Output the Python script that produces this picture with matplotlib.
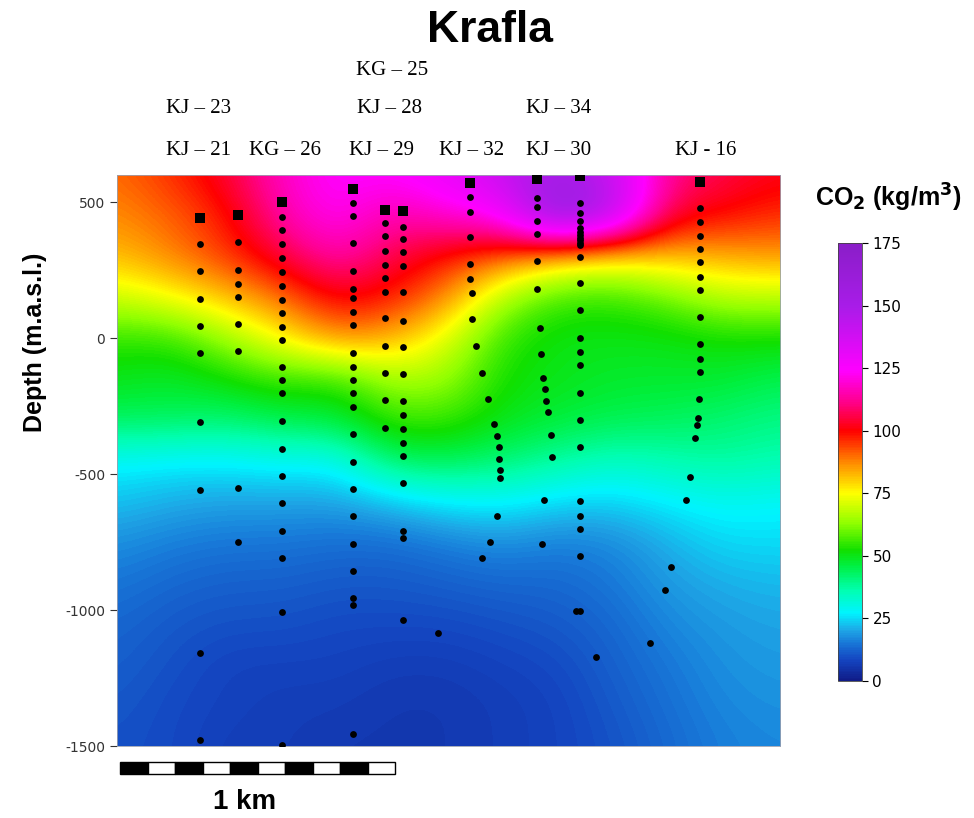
import numpy as np
import matplotlib.pyplot as plt
from matplotlib.colors import LinearSegmentedColormap
from matplotlib.patches import Rectangle

plt.rcParams["axes.unicode_minus"] = False

# profile grid (x along section in m, elevation in m.a.s.l.)
grid_x = [0, 200, 400, 600, 800, 1000, 1200, 1400, 1600, 1800, 2000, 2200, 2400]
grid_z = [600, 450, 300, 150, 0, -150, -300, -450, -600, -750, -900, -1050, -1200, -1350, -1500]

co2 = [
    [90, 96, 104, 118, 125, 124, 130, 140, 152, 140, 112, 106, 102],
    [87, 91, 98, 115, 124, 114, 120, 125, 165, 150, 104, 100, 96],
    [82, 88, 95, 105, 116, 106, 98, 92, 82, 78, 82, 84, 86],
    [70, 75, 82, 90, 102, 98, 88, 66, 56, 55, 60, 68, 68],
    [55, 55, 65, 76, 88, 84, 72, 55, 50, 50, 50, 52, 52],
    [50, 48, 52, 56, 54, 66, 65, 52, 50, 48, 48, 48, 45],
    [44, 44, 42, 46, 47, 56, 56, 50, 47, 45, 44, 42, 40],
    [28, 27, 27, 29, 28, 44, 45, 42, 38, 34, 36, 38, 36],
    [23, 21, 20, 20, 20, 23, 27, 28, 25, 24, 27, 29, 28],
    [18, 16, 15, 15, 14, 14, 16, 18, 16, 17, 21, 25, 25],
    [15, 13, 12, 12, 11, 11, 12, 13, 13, 15, 19, 21, 22],
    [13, 11, 10, 10, 9, 9, 9, 10, 11, 13, 17, 19, 20],
    [12, 10, 8, 8, 8, 7, 7, 8, 9, 12, 15, 18, 19],
    [11, 9, 8, 7, 7, 6, 6, 7, 8, 11, 14, 17, 18],
    [10, 9, 7, 7, 6, 6, 6, 7, 8, 10, 13, 16, 17],
]

# sample points along the wells (x in m, elevation in m)
kj21_x = [302] * 10
kj21_z = [441, 346, 246, 143, 44, -55, -309, -559, -1158, -1478]
kj23_x = [441] * 9
kj23_z = [452, 353, 250, 199, 151, 51, -48, -551, -750]
kg26_x = [601] * 22
kg26_z = [500, 445, 397, 346, 294, 243, 191, 140, 92, 41, -7, -107, -154, -202,
          -305, -408, -507, -606, -709, -809, -1007, -1495]
kj29_x = [860] * 23
kj29_z = [548, 496, 449, 349, 246, 180, 147, 96, 48, -55, -107, -154, -202, -254,
          -353, -456, -555, -654, -757, -856, -956, -981, -1456]
kj28_x = [976] * 12
kj28_z = [471, 423, 375, 320, 268, 221, 169, 74, -29, -129, -228, -331]
kg25_x = [1042] * 18
kg25_z = [467, 408, 364, 316, 265, 169, 63, -33, -132, -232, -283, -334, -386,
          -434, -533, -709, -735, -1037]
kj32_x = [1286, 1286, 1286, 1286, 1286, 1286, 1293, 1293, 1308, 1330, 1352, 1373,
          1384, 1392, 1392, 1395, 1395, 1384, 1359, 1330, 1169]
kj32_z = [570, 518, 463, 371, 272, 217, 165, 70, -29, -129, -224, -316, -360, -401,
          -445, -485, -515, -654, -750, -809, -1084]
kj30_x = [1530, 1530, 1530, 1530, 1530, 1530, 1530, 1541, 1545, 1552, 1559, 1563,
          1570, 1581, 1585, 1556, 1548]
kj30_z = [585, 515, 482, 430, 382, 283, 180, 37, -59, -147, -187, -232, -272, -357,
          -437, -595, -757]
kj34_x = [1687] * 25 + [1672, 1745]
kj34_z = [596, 496, 460, 430, 404, 390, 380, 370, 360, 350, 342, 298, 202, 103, 0,
          -51, -99, -202, -301, -401, -599, -654, -702, -801, -1003, -1003, -1173]
kj16_x = [2124] * 12 + [2120, 2117, 2113, 2106, 2087, 2073, 2018, 1996, 1942]
kj16_z = [574, 478, 426, 375, 327, 279, 224, 177, 77, -22, -77, -125, -224, -294,
          -320, -368, -511, -595, -842, -926, -1121]

wells_x = [kj21_x, kj23_x, kg26_x, kj29_x, kj28_x, kg25_x, kj32_x, kj30_x, kj34_x, kj16_x]
wells_z = [kj21_z, kj23_z, kg26_z, kj29_z, kj28_z, kg25_z, kj32_z, kj30_z, kj34_z, kj16_z]

# well names over the section: (text, x in m, row)
label_text = ["KJ – 21", "KG – 26", "KJ – 29", "KJ – 32", "KJ – 30", "KJ - 16",
              "KJ – 23", "KJ – 28", "KJ – 34", "KG – 25"]
label_x = [296, 612, 965, 1293, 1610, 2146, 296, 991, 1610, 1002]
label_row = [0, 0, 0, 0, 0, 0, 1, 1, 1, 2]

cbar_ticks = [0, 25, 50, 75, 100, 125, 150, 175]

cmap = LinearSegmentedColormap.from_list("surfer", [
    (0.0, "#101c88"), (8 / 175, "#1444c0"), (15 / 175, "#1878d8"),
    (20 / 175, "#1ea6e6"), (27 / 175, "#00f4ff"), (36 / 175, "#00ffb0"),
    (46 / 175, "#00f040"), (52 / 175, "#10e000"), (63 / 175, "#90ff00"),
    (75 / 175, "#ffff00"), (87 / 175, "#ff8c00"), (100 / 175, "#ff0000"),
    (112 / 175, "#ff0090"), (124 / 175, "#ff00ff"), (150 / 175, "#a81ce8"),
    (1.0, "#8a1ec8")])

fig = plt.figure(figsize=(9.74, 8.18), dpi=100)
ax = fig.add_axes([0.1201, 0.0880, 0.6807, 0.6981])

im = ax.imshow(np.array(co2), cmap=cmap, vmin=0, vmax=175, aspect="auto",
               interpolation="bicubic", origin="upper",
               extent=[grid_x[0] - 100, grid_x[-1] + 100, grid_z[-1] - 75, grid_z[0] + 75])
ax.set_xlim(0, 2415)
ax.set_ylim(-1500, 600)

for wx, wz in zip(wells_x, wells_z):
    ax.scatter(wx[1:], wz[1:], s=24, color="black", zorder=3, linewidths=0)
    ax.scatter(wx[:1], wz[:1], s=44, marker="s", color="black", zorder=3, linewidths=0)

row_z = [691, 846, 985]
for t, lx, r in zip(label_text, label_x, label_row):
    ax.text(lx, row_z[r], t, ha="center", va="center", fontsize=15,
            family="Liberation Serif", clip_on=False)

ax.set_xticks([])
ax.set_yticks([500, 0, -500, -1000, -1500])
ax.tick_params(axis="y", labelsize=10, length=5, width=0.8, colors="#333333")
for s in ax.spines.values():
    s.set_linewidth(0.6)
    s.set_color("#9aa0b0")

fig.text(490 / 974, 1 - 30 / 818, "Krafla", ha="center", va="center",
         fontsize=32, fontweight="bold", family="Liberation Sans")
fig.text(35 / 974, 1 - 342 / 818, "Depth (m.a.s.l.)", rotation=90, ha="center",
         va="center", fontsize=18, fontweight="bold", family="Liberation Sans")

cax = fig.add_axes([838 / 974, 1 - 681 / 818, 24 / 974, 438 / 818])
cb = fig.colorbar(im, cax=cax, ticks=cbar_ticks)
cb.outline.set_linewidth(0.6)
cb.outline.set_edgecolor("#444444")
cax.tick_params(labelsize=11, length=4, width=0.8)
fig.text(888 / 974, 1 - 198 / 818, r"CO$_\mathbf{2}$ (kg/m$^\mathbf{3}$)",
         ha="center", va="center", fontsize=18, fontweight="bold",
         family="Liberation Sans")

# scale bar, ten 100 m segments
sax = fig.add_axes([120 / 974, 1 - 774 / 818, 275 / 974, 12 / 818])
for i in range(10):
    sax.add_patch(Rectangle((i * 100, 0), 100, 1, facecolor="black" if i % 2 == 0 else "white",
                            edgecolor="black", linewidth=1.0, clip_on=False))
sax.set_xlim(0, 1000)
sax.set_ylim(0, 1)
sax.axis("off")
fig.text(245 / 974, 1 - 802 / 818, "1 km", ha="center", va="center",
         fontsize=20, fontweight="bold", family="Liberation Sans")

fig.savefig("out.png", dpi=100)
